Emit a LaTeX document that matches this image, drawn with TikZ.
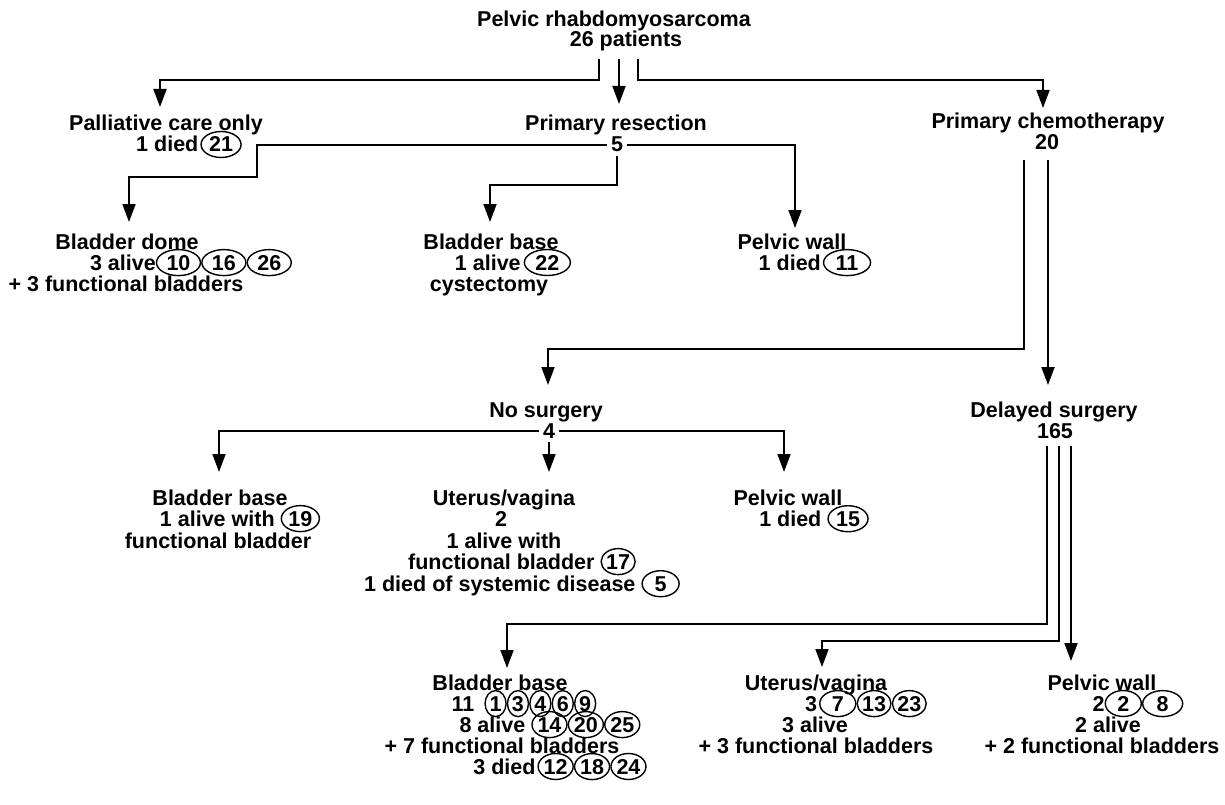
\documentclass[tikz,border=0pt]{standalone}
\usepackage{fontspec}
\setmainfont{Liberation Sans}
\usetikzlibrary{arrows.meta,shapes.geometric}
\newcommand\cnum[2]{\tikz[baseline=(cnX.base)]\node[draw,ellipse,line width=1.4pt,inner sep=0pt,outer sep=0pt,minimum width=#1pt,minimum height=26pt](cnX){#2};}
\begin{document}
\begin{tikzpicture}[x=1pt,y=-1pt,
  txt/.style={font=\fontsize{21.5pt}{21.5pt}\selectfont\bfseries, inner sep=0pt, anchor=base},
  cnt/.style={txt, inner sep=4pt},
  conn/.style={line width=1.9pt},
  arr/.style={conn, -{Triangle[length=18pt,width=13pt]}}]
\useasboundingbox (0,0) rectangle (1225,805);
% ---- row 1
\node[txt] (t1) at (614,27) {Pelvic rhabdomyosarcoma};
\node[txt] (t2) at (626,47) {26 patients};
% ---- row 2
\node[txt] (pal) at (166,131) {Palliative care only};
\node[txt] (pal2) at (189,152) {1 died\hspace{2pt}\cnum{40}{21}};
\node[txt] (res) at (616,131) {Primary resection};
\node[cnt] (n5) at (617,152) {5};
\node[txt] (che) at (1048,129) {Primary chemotherapy};
\node[cnt] (n20) at (1047,150) {20};
% ---- row 3
\node[txt] (bd) at (127,249) {Bladder dome};
\node[txt] (bd2) at (191,270) {3 alive\cnum{44}{10}\cnum{44}{16}\cnum{44}{26}};
\node[txt] (bd3) at (126,291) {+ 3 functional bladders};
\node[txt] (bb1) at (491,249) {Bladder base};
\node[txt] (bb1b) at (513,270) {1 alive\hspace{3pt}\cnum{46}{22}};
\node[txt] (bb1c) at (489,291) {cystectomy};
\node[txt] (pw1) at (792,249) {Pelvic wall};
\node[txt] (pw1b) at (815,270) {1 died\hspace{2pt}\cnum{47}{11}};
% ---- row 4
\node[txt] (ns) at (546,417) {No surgery};
\node[cnt] (n4) at (549,438) {4};
\node[txt] (ds) at (1054,417) {Delayed surgery};
\node[cnt] (n165) at (1055,438) {165};
% ---- row 5
\node[txt] (bb2) at (220,505) {Bladder base};
\node[txt] (bb2b) at (240,526) {1 alive with \cnum{38}{19}};
\node[txt] (bb2c) at (218,548) {functional bladder};
\node[txt] (uv1) at (504,505) {Uterus/vagina};
\node[txt] (uv1b) at (501,526) {2};
\node[txt] (uv1c) at (504,548) {1 alive with};
\node[txt] (uv1d) at (522,569) {functional bladder \cnum{34}{17}};
\node[txt] (uv1e) at (522,591) {1 died of systemic disease \cnum{37}{5}};
\node[txt] (pw2) at (788,505) {Pelvic wall};
\node[txt] (pw2b) at (814,526) {1 died \cnum{40}{15}};
% ---- row 6
\node[txt] (bb3) at (500,690) {Bladder base};
\node[txt] (bb3b) at (524,711) {11\hspace{10pt}\cnum{21}{1}\cnum{21}{3}\cnum{21}{4}\cnum{21}{6}\cnum{21}{9}};
\node[txt] (bb3c) at (550,732) {8 alive \cnum{35}{14}\cnum{35}{20}\cnum{35}{25}};
\node[txt] (bb3d) at (502,753) {+ 7 functional bladders};
\node[txt] (bb3e) at (560,774) {3 died\hspace{2pt}\cnum{35}{12}\cnum{35}{18}\cnum{35}{24}};
\node[txt] (uv2) at (816,690) {Uterus/vagina};
\node[txt] (uv2b) at (866,711) {3\hspace{2pt}\cnum{36}{7}\cnum{33}{13}\cnum{33}{23}};
\node[txt] (uv2c) at (815,732) {3 alive};
\node[txt] (uv2d) at (816,753) {+ 3 functional bladders};
\node[txt] (pw3) at (1102,690) {Pelvic wall};
\node[txt] (pw3b) at (1138,711) {2\cnum{36}{2}\cnum{40}{8}};
\node[txt] (pw3c) at (1108,732) {2 alive};
\node[txt] (pw3d) at (1102,753) {+ 2 functional bladders};
% ---- connector ends
\coordinate (sL) at (599,59);
\coordinate (sM) at (619,59);
\coordinate (sR) at (638,59);
\coordinate (tPal) at (160,107);
\coordinate (tRes) at (619,104);
\coordinate (tChe) at (1043,108);
\coordinate (tBD) at (129,222);
\coordinate (tBB1) at (490,222);
\coordinate (tPW1) at (795,228);
\coordinate (cA) at (1024,160);
\coordinate (cB) at (1048,160);
\coordinate (tNS) at (548,385);
\coordinate (tDS) at (1048,385);
\coordinate (tBB2) at (219,472);
\coordinate (tUV1) at (549,472);
\coordinate (tPW2) at (784,472);
\coordinate (dA) at (1047,446);
\coordinate (dB) at (1059,446);
\coordinate (dC) at (1071,446);
\coordinate (tBB3) at (507,668);
\coordinate (tUV2) at (822,667);
\coordinate (tPW3) at (1071,661);
% ---- connectors
\draw[arr] (sL) -- ++(0,21) -| (tPal);
\draw[arr] (sM) -- (tRes);
\draw[arr] (sR) -- ++(0,21) -| (tChe);
\draw[arr] (n5.west) -| (257,177) -| (tBD);
\draw[arr] (n5.south) -- ++(0,29) -| (tBB1);
\draw[arr] (n5.east) -| (tPW1);
\draw[arr] (cA) -- (1024,349) -| (tNS);
\draw[arr] (cB) -- (tDS);
\draw[arr] (n4.west) -| (tBB2);
\draw[arr] (n4.south) -- (tUV1);
\draw[arr] (n4.east) -| (tPW2);
\draw[arr] (dA) -- (1047,624) -| (tBB3);
\draw[arr] (dB) -- (1059,641) -| (tUV2);
\draw[arr] (dC) -- (tPW3);
\end{tikzpicture}
\end{document}
